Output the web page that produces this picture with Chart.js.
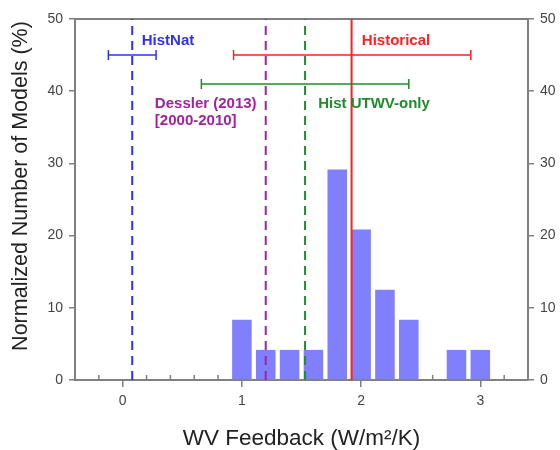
<!DOCTYPE html>
<html><head><meta charset="utf-8">
<script src="https://cdn.jsdelivr.net/npm/chart.js@4/dist/chart.umd.min.js"></script>
<style>html,body{margin:0;padding:0;background:#fff;overflow:hidden;}canvas{display:block;}</style>
</head><body>
<canvas id="c" width="560" height="450"></canvas>
<script>
// ---- data ----
const binCenters = [1.0, 1.2, 1.4, 1.6, 1.8, 2.0, 2.2, 2.4, 2.6, 2.8, 3.0];
const modelPercent = [8.33, 4.17, 4.17, 4.17, 29.17, 20.83, 12.5, 8.33, 0, 4.17, 4.17];
const xTickValues = [0, 1, 2, 3];
const xMinorTickValues = [-0.2, 0.2, 0.4, 0.6, 0.8, 1.2, 1.4, 1.6, 1.8, 2.2, 2.4, 2.6, 2.8, 3.2];
const yTickValues = [0, 10, 20, 30, 40, 50];
const estimateNames = ['HistNat', 'Dessler (2013)', 'Hist UTWV-only', 'Historical'];
const estimateSubtitles = [null, '[2000-2010]', null, null];
const estimateCenters = [0.08, 1.20, 1.53, 1.92];
const rangeLow = [-0.12, null, 0.66, 0.93];
const rangeHigh = [0.28, null, 2.40, 2.92];
const rangeLevel = [45, null, 41, 45];

// ---- styles ----
const FONT = '"Liberation Sans", Arial, Helvetica, sans-serif';
const estimateColors = ['#3030f0', '#a0229e', '#1f8c2c', '#ff1f1f'];
const estimateDash = [[9, 6], [9, 6], [9, 6], []];
const labelAnchors = [
  {x: 0.16, y: 46.95}, {x: 0.27, y: 38.2}, {x: 1.64, y: 38.2}, {x: 2.006, y: 46.95}
];
const AXIS = '#808080';

const datasets = [];
estimateCenters.forEach((c, i) => {
  datasets.push({
    type: 'line', order: 0, xAxisID: 'x', yAxisID: 'y',
    data: [{x: c, y: 0}, {x: c, y: 50}],
    borderColor: estimateColors[i], borderWidth: 2, borderDash: estimateDash[i],
    pointRadius: 0, fill: false, tension: 0
  });
  if (rangeLow[i] !== null) {
    datasets.push({
      type: 'line', order: 0, xAxisID: 'x', yAxisID: 'y',
      data: [{x: rangeLow[i], y: rangeLevel[i]}, {x: rangeHigh[i], y: rangeLevel[i]}],
      borderColor: estimateColors[i], borderWidth: 1.5,
      pointStyle: 'line', pointRotation: 90, pointRadius: 5,
      pointBorderColor: estimateColors[i], pointBorderWidth: 1.5,
      pointHoverRadius: 5, fill: false
    });
  }
});
datasets.push({
  type: 'bar', order: 10, xAxisID: 'x', yAxisID: 'y',
  data: binCenters.map((c, i) => ({x: c, y: modelPercent[i]})),
  backgroundColor: '#8080ff', borderWidth: 0,
  barPercentage: 0.82, categoryPercentage: 1.0
});

const annotate = {
  id: 'annotate',
  beforeDatasetsDraw(chart) {
    const {ctx, scales: {x, y}} = chart;
    ctx.save();
    ctx.strokeStyle = AXIS; ctx.lineWidth = 1.5;
    const yb = y.getPixelForValue(0);
    xMinorTickValues.forEach(v => {
      const px = x.getPixelForValue(v);
      ctx.beginPath(); ctx.moveTo(px, yb); ctx.lineTo(px, yb - 5); ctx.stroke();
    });
    ctx.restore();
  },
  afterDatasetsDraw(chart) {
    const {ctx, scales: {x, y}} = chart;
    ctx.save();
    ctx.font = 'bold 15px ' + FONT;
    ctx.textBaseline = 'middle'; ctx.textAlign = 'left';
    estimateNames.forEach((name, i) => {
      const px = x.getPixelForValue(labelAnchors[i].x);
      const py = y.getPixelForValue(labelAnchors[i].y);
      ctx.fillStyle = estimateColors[i];
      ctx.fillText(name, px, py);
      if (estimateSubtitles[i]) ctx.fillText(estimateSubtitles[i], px, py + 16.5);
    });
    ctx.restore();
    // y-axis title
    ctx.save();
    ctx.translate(21, 186);
    ctx.rotate(-Math.PI / 2);
    ctx.font = '21.5px ' + FONT;
    ctx.fillStyle = '#222';
    ctx.textAlign = 'center'; ctx.textBaseline = 'middle';
    ctx.fillText('Normalized Number of Models (%)', 0, 0);
    ctx.restore();
  }
};

const yScale = (pos, w, pad) => ({
  type: 'linear', position: pos, min: 0, max: 50,
  afterBuildTicks: s => { s.ticks = yTickValues.map(v => ({value: v})); },
  afterFit: s => { s.width = w; },
  grid: {display: true, drawOnChartArea: false, drawTicks: true, tickLength: 6, color: AXIS, tickColor: AXIS, lineWidth: 1.5, tickWidth: 1.5},
  border: {display: true, color: AXIS, width: 2},
  ticks: {font: {family: FONT, size: 14}, color: '#444', padding: pad}
});

new Chart(document.getElementById('c'), {
  type: 'bar',
  data: {datasets},
  options: {
    responsive: false, animation: false,
    layout: {padding: 0},
    plugins: {legend: {display: false}, tooltip: {enabled: false}},
    scales: {
      x: {
        type: 'linear', position: 'bottom', min: -0.4, max: 3.4, offset: false,
        afterBuildTicks: s => { s.ticks = xTickValues.map(v => ({value: v})); },
        afterFit: s => { s.height = 70; },
        grid: {display: true, offset: false, drawOnChartArea: false, drawTicks: true, tickLength: 7, color: AXIS, tickColor: AXIS, lineWidth: 1.5, tickWidth: 1.5},
        border: {display: true, color: AXIS, width: 2},
        ticks: {font: {family: FONT, size: 14}, color: '#444', padding: 6, maxRotation: 0, autoSkip: false},
        title: {display: true, text: 'WV Feedback (W/m²/K)', color: '#222', padding: 0,
                font: {family: FONT, size: 22.5, lineHeight: 1}}
      },
      xTop: {
        type: 'linear', position: 'top', min: -0.4, max: 3.4, offset: false,
        afterFit: s => { s.height = 19; },
        grid: {display: false, drawTicks: false},
        border: {display: true, color: AXIS, width: 2},
        ticks: {display: false}
      },
      y: yScale('left', 75, 6),
      y2: yScale('right', 32, 6)
    }
  },
  plugins: [annotate]
});
</script>
</body></html>
